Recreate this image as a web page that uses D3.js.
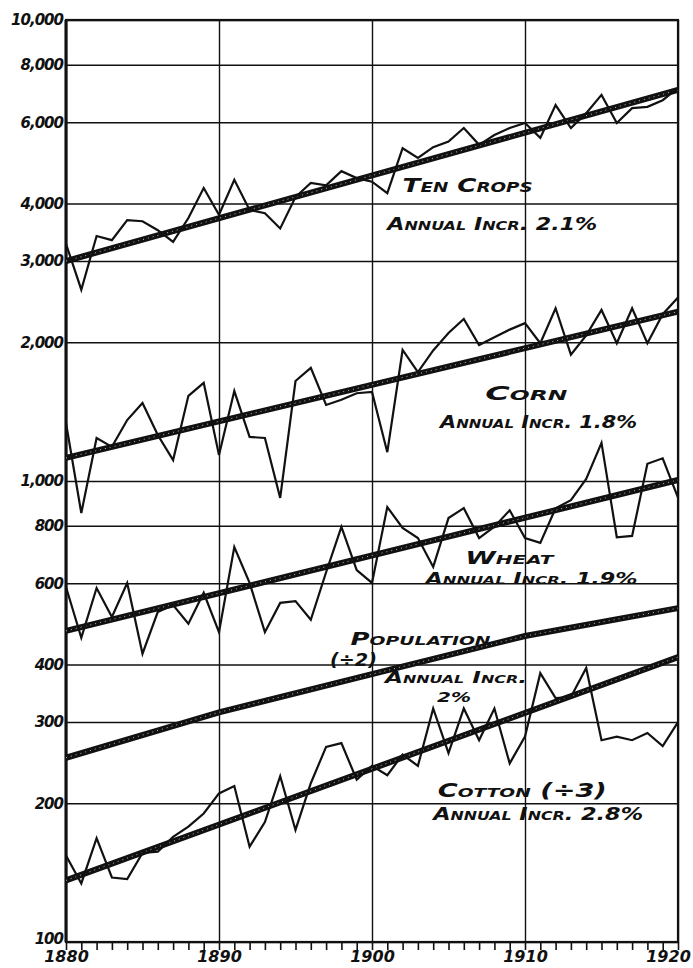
<!DOCTYPE html>
<meta charset="utf-8">
<html lang="en">
<head>
    <meta charset="UTF-8">
    <title>D3</title>
    <script src="https://d3js.org/d3.v7.min.js"></script>
    <style>
        body { margin: 0; background: #fff; }
        text { font-family: "DejaVu Sans", sans-serif; font-weight: bold; font-style: italic; fill: #111; }
    </style>
</head>
<body>
    <div id="viz"></div>
    <script>
        // years 1880 .. 1920
        const years = d3.range(1880, 1921);

        // yearly values (log scale)
        const tenCrops = [3270, 2600, 3400, 3330, 3680, 3660, 3500, 3300, 3720, 4320,
                          3780, 4500, 3870, 3810, 3530, 4130, 4430, 4380, 4700, 4540,
                          4460, 4210, 5270, 5020, 5300, 5450, 5830, 5360, 5630, 5830,
                          5980, 5550, 6540, 5830, 6280, 6880, 5980, 6440, 6480, 6700, 7120];
        const corn = [1336, 852, 1240, 1186, 1356, 1476, 1258, 1110, 1530, 1633,
                      1139, 1567, 1246, 1240, 919, 1648, 1759, 1462, 1500, 1550,
                      1560, 1155, 1924, 1723, 1920, 2094, 2246, 1972, 2050, 2130,
                      2200, 1990, 2370, 1880, 2070, 2350, 1990, 2370, 1990, 2300, 2500];
        const wheat = [589, 457, 586, 507, 601, 422, 520, 538, 490, 572,
                       470, 719, 601, 470, 544, 549, 500, 634, 795, 641,
                       601, 878, 791, 752, 651, 831, 873, 752, 796, 864,
                       752, 734, 873, 909, 1010, 1210, 755, 760, 1090, 1120, 920];
        const cotton = [154, 134, 168, 138, 137, 156, 157, 169, 178, 190,
                        210, 218, 161, 182, 229, 175, 221, 265, 270, 225,
                        241, 230, 255, 241, 321, 257, 321, 274, 321, 244,
                        279, 383, 338, 340, 393, 274, 279, 274, 284, 266, 300];

        // trend lines (value in 1880, value in 1920)
        const tenCropsTrend = [3000, 7050];
        const cornTrend = [1122, 2330];
        const wheatTrend = [473, 1005];
        const cottonTrend = [136, 415];

        // population (÷2), census years
        const censusYears = [1880, 1890, 1900, 1910, 1920];
        const population = [251, 315, 381, 461, 530];

        // axis ticks
        const yTicks = [100, 200, 300, 400, 600, 800, 1000, 2000, 3000, 4000, 6000, 8000, 10000];
        const decadeTicks = [1880, 1890, 1900, 1910, 1920];

        // lettering on the chart
        const labels = [
            {text: "Ten Crops", year: 1902.0, value: 4240, len: 130, size: 20},
            {text: "Annual Incr. 2.1%", year: 1901.0, value: 3500, len: 210, size: 18},
            {text: "Corn", year: 1907.4, value: 1498, len: 82, size: 20},
            {text: "Annual Incr. 1.8%", year: 1904.45, value: 1303, len: 197, size: 18},
            {text: "Wheat", year: 1906.1, value: 661, len: 88, size: 18},
            {text: "Annual Incr. 1.9%", year: 1903.5, value: 598, len: 212, size: 15},
            {text: "Population", year: 1898.6, value: 441, len: 140, size: 18},
            {text: "(÷2)", year: 1897.25, value: 397, len: 47, size: 17},
            {text: "Annual Incr.", year: 1900.85, value: 365, len: 142, size: 16},
            {text: "2%", year: 1904.25, value: 331, len: 34, size: 14},
            {text: "Cotton (÷3)", year: 1904.3, value: 206, len: 169, size: 19},
            {text: "Annual Incr. 2.8%", year: 1904.0, value: 184, len: 210, size: 17}
        ];

        const margin = {top: 20, right: 15, bottom: 26, left: 66};
        const width = 693 - margin.left - margin.right;
        const height = 968 - margin.top - margin.bottom;

        const svg = d3.select("#viz")
            .append("svg")
                .attr("width", width + margin.left + margin.right)
                .attr("height", height + margin.top + margin.bottom)
            .append("g")
                .attr("transform", `translate(${margin.left},${margin.top})`);

        const x = d3.scaleLinear().domain([1880, 1920]).range([0, width]);
        const y = d3.scaleLog().domain([100, 10000]).range([height, 0]);

        // horizontal grid + y labels
        const yAxis = svg.append("g")
            .call(d3.axisLeft(y).tickValues(yTicks).tickFormat(d3.format(",")).tickSize(-width).tickPadding(3));
        yAxis.select(".domain").remove();
        yAxis.selectAll(".tick line").attr("stroke", "#111").attr("stroke-width", 1.6);
        yAxis.selectAll(".tick text").style("font-size", "15px").style("letter-spacing", "-1px")
            .attr("fill", "#111")
            .attr("dy", d => d === 100 ? "0.1em" : "0.32em");

        // minor year ticks below the axis
        const minor = svg.append("g")
            .attr("transform", `translate(0,${height})`)
            .call(d3.axisBottom(x).tickValues(years).tickSize(8).tickFormat(""));
        minor.select(".domain").remove();
        minor.selectAll(".tick line").attr("stroke", "#111").attr("stroke-width", 1.6);

        // vertical grid + decade labels
        const xAxis = svg.append("g")
            .attr("transform", `translate(0,${height})`)
            .call(d3.axisBottom(x).tickValues(decadeTicks).tickFormat(d3.format("d")).tickSize(-height).tickPadding(9));
        xAxis.select(".domain").remove();
        xAxis.selectAll(".tick line").attr("stroke", "#111").attr("stroke-width", 1.4);
        xAxis.selectAll(".tick text").style("font-size", "16px").attr("fill", "#111")
            .attr("dx", d => d === 1920 ? -10 : 0);

        // frame
        svg.append("rect")
            .attr("width", width).attr("height", height)
            .attr("fill", "none").attr("stroke", "#111").attr("stroke-width", 2.2);
        svg.append("line")
            .attr("x1", 0).attr("x2", 0).attr("y1", 0).attr("y2", height)
            .attr("stroke", "#111").attr("stroke-width", 3);

        const line = d3.line()
            .x(d => x(d[0]))
            .y(d => y(d[1]));

        // thick trend lines
        const trends = [
            [[1880, tenCropsTrend[0]], [1920, tenCropsTrend[1]]],
            [[1880, cornTrend[0]], [1920, cornTrend[1]]],
            [[1880, wheatTrend[0]], [1920, wheatTrend[1]]],
            [[1880, cottonTrend[0]], [1920, cottonTrend[1]]],
            censusYears.map((yr, i) => [yr, population[i]])
        ];
        trends.forEach(t => {
            svg.append("path")
                .attr("d", line(t))
                .attr("fill", "none")
                .attr("stroke", "#111")
                .attr("stroke-width", 6);
            svg.append("path")
                .attr("d", line(t))
                .attr("fill", "none")
                .attr("stroke", "#bbb")
                .attr("stroke-width", 1)
                .attr("stroke-dasharray", "1 4");
        });

        // thin yearly lines
        [tenCrops, corn, wheat, cotton].forEach(series => {
            svg.append("path")
                .attr("d", line(years.map((yr, i) => [yr, series[i]])))
                .attr("fill", "none")
                .attr("stroke", "#111")
                .attr("stroke-width", 2.2)
                .attr("stroke-linejoin", "miter");
        });

        // lettering
        svg.selectAll(".label")
            .data(labels)
            .join("text")
                .attr("class", "label")
                .attr("x", d => x(d.year))
                .attr("y", d => y(d.value))
                .style("font-size", d => d.size + "px")
                .style("font-variant", "small-caps")
                .attr("textLength", d => d.len)
                .attr("lengthAdjust", "spacingAndGlyphs")
                .text(d => d.text);
    </script>
</body>
</html>
